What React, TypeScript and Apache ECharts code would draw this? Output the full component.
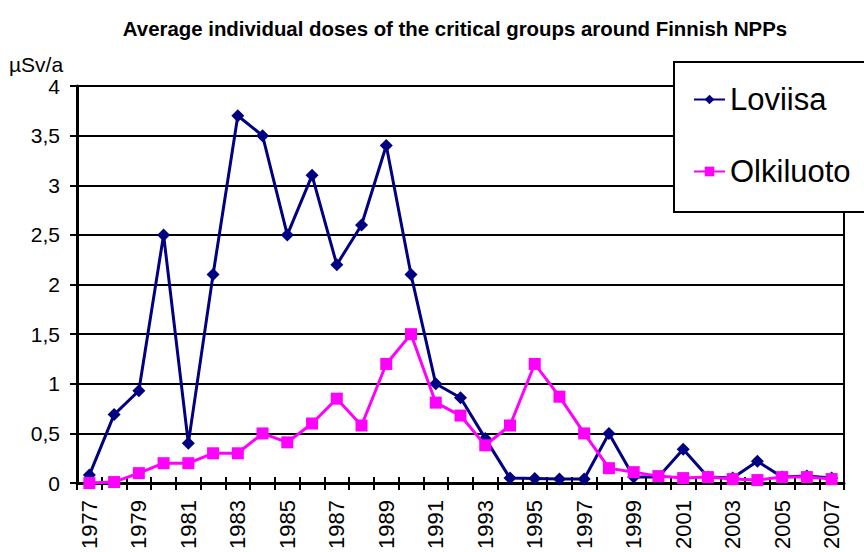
import React, { useEffect, useRef } from "react";
import * as echarts from "echarts";

const years = [
  "1977","1978","1979","1980","1981","1982","1983","1984","1985","1986",
  "1987","1988","1989","1990","1991","1992","1993","1994","1995","1996",
  "1997","1998","1999","2000","2001","2002","2003","2004","2005","2006","2007",
];
const loviisa = [
  0.08, 0.69, 0.93, 2.5, 0.4, 2.1, 3.7, 3.5, 2.5, 3.1,
  2.2, 2.6, 3.4, 2.1, 1.0, 0.86, 0.45, 0.05, 0.045, 0.04,
  0.04, 0.5, 0.06, 0.06, 0.34, 0.06, 0.05, 0.22, 0.06, 0.07, 0.05,
];
const olkiluoto = [
  0.0, 0.01, 0.1, 0.2, 0.2, 0.3, 0.3, 0.5, 0.41, 0.6,
  0.85, 0.58, 1.2, 1.5, 0.81, 0.68, 0.38, 0.58, 1.2, 0.87,
  0.5, 0.15, 0.11, 0.07, 0.05, 0.06, 0.04, 0.03, 0.06, 0.06, 0.04,
];
const title = "Average individual doses of the critical groups around Finnish NPPs";
const unitLabel = "\u00b5Sv/a";

const FONT = "'Liberation Sans', Arial, sans-serif";

export default function App() {
  const ref = useRef<HTMLDivElement>(null);
  useEffect(() => {
    if (!ref.current) return;
    const chart = echarts.init(ref.current, undefined, { renderer: "svg" });
    chart.setOption({
      animation: false,
      backgroundColor: "#ffffff",
      title: {
        text: title,
        left: 450,
        top: 14,
        textAlign: "center",
        textStyle: { fontFamily: FONT, fontSize: 20.4, fontWeight: "bold", color: "#000" },
      },
      graphic: [
        {
          type: "text",
          left: 9,
          top: 54,
          style: { text: unitLabel, font: `21px ${FONT}`, fill: "#000" },
        },
      ],
      legend: {
        orient: "vertical",
        left: 674,
        top: 62,
        padding: [22, 40, 25, 19],
        itemGap: 41,
        itemWidth: 31,
        itemHeight: 12,
        backgroundColor: "#ffffff",
        borderColor: "#000000",
        borderWidth: 2,
        borderRadius: 0,
        textStyle: { fontFamily: FONT, fontSize: 31, color: "#000", lineHeight: 31 },
        data: ["Loviisa", "Olkiluoto"],
      },
      grid: {
        left: 77,
        right: 20,
        top: 86,
        bottom: 66,
        show: true,
        borderColor: "#000",
        borderWidth: 2,
        containLabel: false,
      },
      xAxis: [
        {
          type: "category",
          data: years,
          boundaryGap: true,
          axisLine: { lineStyle: { color: "#000", width: 3 } },
          axisTick: { show: true, interval: 0, length: 7, lineStyle: { color: "#000", width: 2 } },
          axisLabel: {
            interval: 1,
            rotate: 90,
            margin: 17,
            fontFamily: FONT,
            fontSize: 22,
            color: "#000",
          },
          splitLine: { show: false },
        },
        {
          type: "category",
          data: years,
          position: "bottom",
          boundaryGap: true,
          axisLine: { show: false },
          axisTick: { show: true, inside: true, interval: 0, length: 6, lineStyle: { color: "#000", width: 2 } },
          axisLabel: { show: false },
          splitLine: { show: false },
        },
      ],
      yAxis: {
        type: "value",
        min: 0,
        max: 4,
        interval: 0.5,
        axisLine: { show: true, lineStyle: { color: "#000", width: 3 } },
        axisTick: { show: true, length: 7, lineStyle: { color: "#000", width: 2 } },
        axisLabel: {
          margin: 17,
          fontFamily: FONT,
          fontSize: 21,
          color: "#000",
          formatter: (v: number) => String(v).replace(".", ","),
        },
        splitLine: { show: true, lineStyle: { color: "#000", width: 2 } },
      },
      series: [
        {
          name: "Loviisa",
          type: "line",
          data: loviisa,
          color: "#000080",
          lineStyle: { width: 3, color: "#000080" },
          symbol: "diamond",
          symbolSize: 13,
          itemStyle: { color: "#000080" },
          z: 3,
        },
        {
          name: "Olkiluoto",
          type: "line",
          data: olkiluoto,
          color: "#ff00ff",
          lineStyle: { width: 3, color: "#ff00ff" },
          symbol: "rect",
          symbolSize: 12,
          itemStyle: { color: "#ff00ff" },
          z: 4,
        },
      ],
    });
    return () => chart.dispose();
  }, []);
  return <div ref={ref} style={{ width: 864, height: 552, position: "absolute", left: 0, top: 0 }} />;
}
